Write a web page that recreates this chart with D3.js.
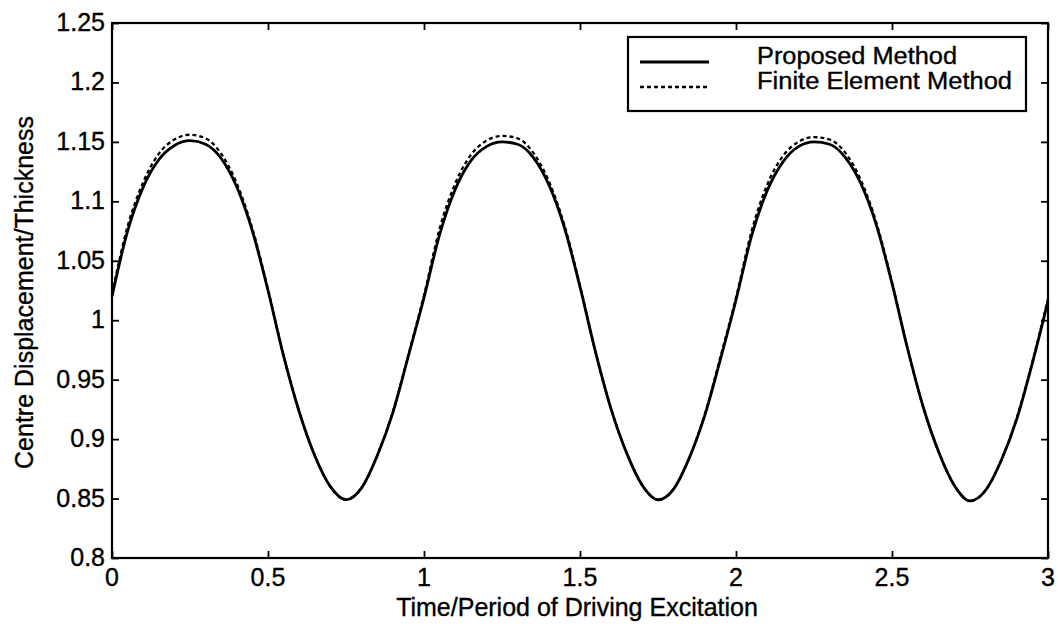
<!DOCTYPE html>
<html>
<head>
<meta charset="utf-8">
<script src="https://cdn.jsdelivr.net/npm/d3@7/dist/d3.min.js"></script>
<style>
  html, body { margin: 0; padding: 0; background: #fff; }
  svg { display: block; }
  text { font-family: "Liberation Sans", Arial, Helvetica, sans-serif; fill: #000; stroke: #000; stroke-width: 0.35px; }
</style>
</head>
<body>
<svg id="chart" width="1058" height="629"></svg>
<script>
// Sample times (period of driving excitation units)
const times = [
  0.00, 0.05, 0.10, 0.15, 0.20, 0.25, 0.30, 0.35, 0.40, 0.45,
  0.50, 0.55, 0.60, 0.65, 0.70, 0.75, 0.80, 0.85, 0.90, 0.95,
  1.00, 1.05, 1.10, 1.15, 1.20, 1.25, 1.30, 1.35, 1.40, 1.45,
  1.50, 1.55, 1.60, 1.65, 1.70, 1.75, 1.80, 1.85, 1.90, 1.95,
  2.00, 2.05, 2.10, 2.15, 2.20, 2.25, 2.30, 2.35, 2.40, 2.45,
  2.50, 2.55, 2.60, 2.65, 2.70, 2.75, 2.80, 2.85, 2.90, 2.95,
  3.00
];

// Centre displacement / thickness, proposed method
const proposed = [
  1.020, 1.075, 1.112, 1.135, 1.147, 1.151, 1.148, 1.136, 1.112, 1.075,
  1.025, 0.970, 0.923, 0.886, 0.860, 0.849, 0.859, 0.886, 0.922, 0.970,
  1.019, 1.072, 1.110, 1.134, 1.146, 1.150, 1.148, 1.137, 1.114, 1.078,
  1.028, 0.973, 0.925, 0.888, 0.861, 0.849, 0.858, 0.884, 0.920, 0.967,
  1.017, 1.071, 1.109, 1.133, 1.146, 1.150, 1.148, 1.137, 1.115, 1.080,
  1.031, 0.976, 0.927, 0.889, 0.861, 0.848, 0.857, 0.882, 0.917, 0.964,
  1.016
];

// Centre displacement / thickness, finite element method
const fem = [
  1.022, 1.079, 1.116, 1.140, 1.152, 1.156, 1.153, 1.140, 1.115, 1.077,
  1.026, 0.970, 0.923, 0.886, 0.860, 0.849, 0.859, 0.886, 0.923, 0.971,
  1.021, 1.077, 1.115, 1.139, 1.151, 1.155, 1.153, 1.141, 1.117, 1.080,
  1.029, 0.973, 0.925, 0.888, 0.861, 0.849, 0.858, 0.884, 0.921, 0.969,
  1.019, 1.075, 1.114, 1.138, 1.150, 1.154, 1.152, 1.141, 1.118, 1.082,
  1.032, 0.976, 0.927, 0.889, 0.861, 0.848, 0.857, 0.882, 0.918, 0.965,
  1.018
];

const xTicks = [0, 0.5, 1, 1.5, 2, 2.5, 3];
const xTickLabels = ["0", "0.5", "1", "1.5", "2", "2.5", "3"];
const yTicks = [0.8, 0.85, 0.9, 0.95, 1, 1.05, 1.1, 1.15, 1.2, 1.25];
const yTickLabels = ["0.8", "0.85", "0.9", "0.95", "1", "1.05", "1.1", "1.15", "1.2", "1.25"];

const seriesNames = ["Proposed Method", "Finite Element Method"];

const svg = d3.select("#chart");
const m = { left: 112, right: 1048, top: 23, bottom: 558 };
const fontSize = 25;

const x = d3.scaleLinear().domain([0, 3]).range([m.left, m.right]);
const y = d3.scaleLinear().domain([0.8, 1.25]).range([m.bottom, m.top]);

// Plot frame
svg.append("rect")
  .attr("x", m.left).attr("y", m.top)
  .attr("width", m.right - m.left).attr("height", m.bottom - m.top)
  .attr("fill", "none").attr("stroke", "#000").attr("stroke-width", 2.2);

const tickLen = 7;
const axisStyle = g => {
  g.select(".domain").remove();
  g.selectAll(".tick line").attr("stroke", "#000").attr("stroke-width", 1.8);
  g.selectAll(".tick text").remove();
};

// Inward ticks on all four sides
svg.append("g").attr("transform", `translate(0,${m.bottom})`)
  .call(d3.axisTop(x).tickValues(xTicks).tickSize(tickLen)).call(axisStyle);
svg.append("g").attr("transform", `translate(0,${m.top})`)
  .call(d3.axisBottom(x).tickValues(xTicks).tickSize(tickLen)).call(axisStyle);
svg.append("g").attr("transform", `translate(${m.left},0)`)
  .call(d3.axisRight(y).tickValues(yTicks).tickSize(tickLen)).call(axisStyle);
svg.append("g").attr("transform", `translate(${m.right},0)`)
  .call(d3.axisLeft(y).tickValues(yTicks).tickSize(tickLen)).call(axisStyle);

// Tick labels
svg.append("g").selectAll("text").data(xTicks).join("text")
  .attr("x", d => x(d)).attr("y", 586)
  .attr("text-anchor", "middle").attr("font-size", fontSize)
  .text((d, i) => xTickLabels[i]);

svg.append("g").selectAll("text").data(yTicks).join("text")
  .attr("x", 105).attr("y", d => y(d) + 8)
  .attr("text-anchor", "end").attr("font-size", fontSize)
  .text((d, i) => yTickLabels[i]);

// Axis titles
svg.append("text")
  .attr("x", (m.left + m.right) / 2 - 3).attr("y", 616)
  .attr("text-anchor", "middle").attr("font-size", fontSize)
  .text("Time/Period of Driving Excitation");

svg.append("text")
  .attr("transform", `translate(33,${(m.top + m.bottom) / 2 + 2}) rotate(-90)`)
  .attr("text-anchor", "middle").attr("font-size", fontSize)
  .text("Centre Displacement/Thickness");

// Curves
const line = d3.line()
  .x((d, i) => x(times[i]))
  .y(d => y(d))
  .curve(d3.curveMonotoneX);

svg.append("path").datum(fem)
  .attr("d", line).attr("fill", "none")
  .attr("stroke", "#000").attr("stroke-width", 2.3)
  .attr("stroke-dasharray", "4,3");

svg.append("path").datum(proposed)
  .attr("d", line).attr("fill", "none")
  .attr("stroke", "#000").attr("stroke-width", 2.8);

// Legend
const lg = svg.append("g");
lg.append("rect")
  .attr("x", 628).attr("y", 37).attr("width", 398).attr("height", 74)
  .attr("fill", "#fff").attr("stroke", "#000").attr("stroke-width", 2.2);

const legendFont = 23;
const legendRows = [
  { name: seriesNames[0], dash: null, w: 2.8, y: 62 },
  { name: seriesNames[1], dash: "4,3", w: 2.3, y: 87 }
];
legendRows.forEach(r => {
  lg.append("line")
    .attr("x1", 640).attr("x2", 709).attr("y1", r.y).attr("y2", r.y)
    .attr("stroke", "#000").attr("stroke-width", r.w)
    .attr("stroke-dasharray", r.dash);
  lg.append("text")
    .attr("x", 757).attr("y", r.y + 2)
    .attr("font-size", legendFont)
    .attr("textLength", r === legendRows[0] ? 200 : 255)
    .attr("lengthAdjust", "spacingAndGlyphs")
    .text(r.name);
});
</script>
</body>
</html>
